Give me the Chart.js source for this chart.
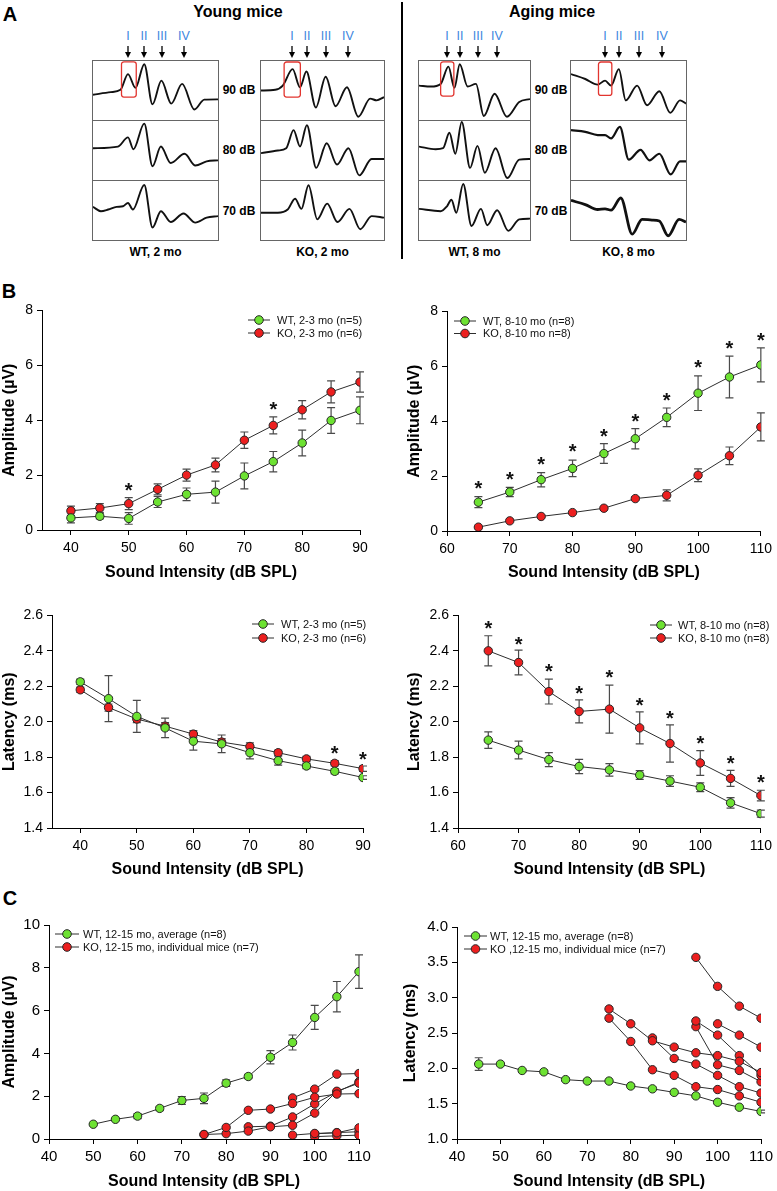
<!DOCTYPE html>
<html><head><meta charset="utf-8"><title>ABR figure</title>
<script src="https://cdn.jsdelivr.net/npm/chart.js@4.4.1/dist/chart.umd.min.js"></script>
<style>
html,body{margin:0;padding:0;background:#fff}
body{position:relative;width:777px;height:1191px;overflow:hidden;font-family:"Liberation Sans",Arial,Helvetica,sans-serif;color:#000}
canvas{position:absolute;display:block}
.t{position:absolute;transform:translate(-50%,-50%);white-space:nowrap;line-height:1}
.pl{font-weight:bold;font-size:20px}
.hd{font-weight:bold;font-size:16px}
.db{font-weight:bold;font-size:12px}
.rn{font-size:12.5px;color:#3d86e0}
.box{position:absolute;top:60px;height:181px;border:1px solid #666;box-sizing:border-box}
.sep{position:absolute;left:0;right:0;height:1px;background:#666}
</style></head><body>
<svg id="ann" width="777" height="262" style="position:absolute;left:0;top:0">
  <line x1="402" y1="2" x2="402" y2="259" stroke="#000" stroke-width="2"/>
</svg>
<div class="t pl" style="left:10px;top:14px">A</div>
<div class="t hd" style="left:238px;top:12px">Young mice</div>
<div class="t hd" style="left:552px;top:12px">Aging mice</div>
<div class="t pl" style="left:9px;top:291px">B</div>
<div class="t pl" style="left:10px;top:898px">C</div>
<script>
// ================= DATA =================
// Panel A: ABR waveforms (time in % of sweep, amplitude in arbitrary units)
const wt2_90_t=[0,14.2,22,28,34,41,47.6,54.7,62.6,71.3,81.1,89,100];
const wt2_90_v=[-4.3,-1.7,0.7,16.7,2.7,26.7,-14,10,-13.3,6.7,-19.3,-9.3,-9];
const wt2_80_t=[0,20,28,32.3,41,47.6,54.3,62.2,73.2,81.9,90.9,100];
const wt2_80_v=[2.3,4,13.3,1.3,27.3,-16,4,-12.7,-3.3,-15.3,-11,-10];
const wt2_70_t=[0,6.3,12.2,18.9,24,28,31.9,41,47.6,54.3,62.2,72.4,81.9,90.9,100];
const wt2_70_v=[3.7,-0.7,1,3.7,4.3,7.7,1,26,-17.3,-0.7,-11.7,-3,-12.3,-7.3,-5.7];
const ko2_90_t=[0,11.6,17.7,25.7,31.7,36.9,44.6,52.6,60.6,69.9,79.1,88.8,94,100];
const ko2_90_v=[0,0.7,5,21.7,3.3,19.3,-17.3,14,-16,3.3,-26.7,-8.3,-10,-6.7];
const ko2_80_t=[0,13.7,20.5,26.5,31.7,37.3,44.9,53.4,61.8,71.1,79.9,89.9,100];
const ko2_80_v=[-2.7,0,2.3,20.7,4,25.7,-17.7,7.3,-14.3,2.3,-25.3,-8.7,-8.7];
const ko2_70_t=[0,13.7,21.7,27.7,32.9,38.6,45.8,53.8,62.2,71.9,80.7,89.9,100];
const ko2_70_v=[-2.3,-2.3,1,12,1.7,25.7,-9,7,-11.7,1.7,-19,-5.7,-7.3];
const wt8_90_t=[0,10.6,19.5,26.5,31.9,36.7,43.8,51.3,58.4,68.1,79.2,90.3,100];
const wt8_90_v=[5,4,6.7,24.3,2.7,26.7,4,6.7,-26,-3.3,-26.7,-11.7,-8.7];
const wt8_80_t=[0,15,21.7,27.4,32.7,38.5,46,52.7,59.3,69,79.6,90.3,100];
const wt8_80_v=[4,1.3,2.3,18,-3.3,29,-17.7,4.7,-22.7,2.3,-28,-9.3,-8.7];
const wt8_70_t=[0,19.5,25.2,29.2,33.6,39.8,47.3,55.8,61.5,70.4,80.5,90.3,100];
const wt8_70_v=[1.7,-0.7,4.3,11,-2.3,27,-15.7,1.7,-15,0.3,-20.7,-9,-8.3];
const ko8_90_t=[0,12.4,23.2,29.6,34.8,41.6,47.6,57.5,66.1,76.8,86.3,94.8,100];
const ko8_90_v=[16.7,11.7,6,10,5,21.7,-10,5,-15,-0.7,-22.7,-10,-13.3];
const ko8_80_t=[0,12.4,23.2,29.6,34.8,42.5,50.2,60.5,68.2,76.8,86.7,94.8,100];
const ko8_80_v=[20.7,19,15.7,15.7,12.3,24,-9.3,0.7,-10,-3.3,-24.3,-11,-11];
const ko8_70_t=[0,12.4,23.2,29.6,34.8,43.3,53.2,61.8,70.4,76.8,84.5,94,100];
const ko8_70_v=[10.3,6,1,1.7,0.3,12.7,-24,-9,-9.7,-10.7,-25.7,-9,-11.7];
// wave I highlight boxes [tStart, tEnd, top, bottom]
const wt2_waveI=[22.8,34.6,29.7,-6.7];
const ko2_waveI=[18.8,32,29,-6.7];
const wt8_waveI=[19.5,31.4,30,-5.7];
const ko8_waveI=[23.9,35.5,29,-5];
const dbLevels=['90 dB','80 dB','70 dB'];
const waveNames=['I','II','III','IV'];

// Panel B: young (2-3 mo)
const dbYoung=[40,45,50,55,60,65,70,75,80,85,90];
const ampWtYoung=[0.44,0.50,0.42,1.02,1.30,1.38,1.97,2.49,3.17,3.99,4.36];
const ampWtYoungErr=[0.18,0.10,0.21,0.20,0.23,0.40,0.47,0.37,0.47,0.47,0.49];
const ampKoYoung=[0.70,0.80,0.96,1.48,2.00,2.37,3.27,3.81,4.38,5.03,5.39];
const ampKoYoungErr=[0.17,0.16,0.22,0.20,0.22,0.25,0.30,0.31,0.33,0.40,0.37];
const ampYoungStarDb=[50,75];
const ampYoungStarY=[1.66,4.59];
const latWtYoung=[2.225,2.13,2.03,1.965,1.89,1.875,1.825,1.78,1.75,1.72,1.685];
const latWtYoungErr=[0.015,0.13,0.09,0.055,0.05,0.05,0.035,0.025,0.015,0.015,0.01];
const latKoYoung=[2.18,2.08,2.015,1.975,1.93,1.885,1.86,1.825,1.79,1.765,1.735];
const latKoYoungErr=[0.015,0.02,0.02,0.02,0.02,0.02,0.02,0.015,0.015,0.015,0.015];
const latYoungStarDb=[85,90];
const latYoungStarY=[1.853,1.82];

// Panel B: aging (8-10 mo)
const dbOld=[65,70,75,80,85,90,95,100,105,110];
const ampWtOld=[1.05,1.42,1.87,2.28,2.82,3.36,4.14,5.02,5.61,6.05];
const ampWtOldErr=[0.20,0.17,0.26,0.30,0.36,0.37,0.34,0.63,0.76,0.62];
const ampKoOld=[0.14,0.37,0.53,0.67,0.83,1.18,1.30,2.03,2.74,3.79];
const ampKoOldErr=[0.04,0.04,0.04,0.04,0.05,0.06,0.20,0.23,0.32,0.51];
const ampOldStarY=[1.75,2.10,2.64,3.10,3.67,4.20,4.98,6.16,6.86,7.16];
const latWtOld=[1.896,1.84,1.786,1.747,1.728,1.699,1.665,1.63,1.542,1.481];
const latWtOldErr=[0.047,0.05,0.04,0.04,0.035,0.025,0.03,0.025,0.03,0.02];
const latKoOld=[2.40,2.334,2.17,2.058,2.071,1.965,1.877,1.767,1.68,1.583];
const latKoOldErr=[0.085,0.07,0.07,0.065,0.136,0.09,0.105,0.07,0.045,0.03];
const latOldStarY=[2.56,2.468,2.315,2.194,2.28,2.127,2.054,1.909,1.80,1.69];

// Panel C: 12-15 mo
const dbAgedWt=[50,55,60,65,70,75,80,85,90,95,100,105,110];
const ampWtAged=[0.69,0.92,1.07,1.43,1.80,1.90,2.61,2.92,3.82,4.51,5.68,6.65,7.82];
const ampWtAgedErr=[0.03,0.04,0.12,0.10,0.18,0.25,0.15,0.10,0.31,0.35,0.56,0.71,0.78];
const dbAgedKo=[75,80,85,90,95,100,105,110];
const ampKoMouse1=[0.21,0.54,1.34,1.40,1.66,1.95,2.10,2.12];
const ampKoMouse2=[0.21,0.25,0.37,0.57,0.64,1.21,2.23,2.61];
const ampKoMouse3=[null,null,0.57,0.60,1.03,1.64,2.20,2.67];
const ampKoMouse4=[null,null,null,null,1.92,2.33,3.03,3.06];
const ampKoMouse5=[null,null,null,null,0.18,0.26,0.29,0.52];
const ampKoMouse6=[null,null,null,null,null,0.11,0.15,0.18];
const ampKoMouse7=[null,null,null,null,null,0.24,0.30,0.34];
const dbAgedWtLat=[45,50,55,60,65,70,75,80,85,90,95,100,105,110];
const latWtAged=[2.06,2.06,1.97,1.95,1.84,1.82,1.82,1.75,1.71,1.66,1.61,1.52,1.45,1.39];
const latWtAgedErr=[0.09,0.02,0.02,0.02,0.02,0.02,0.02,0.02,0.02,0.02,0.02,0.02,0.02,0.02];
const latKoMouse1=[2.84,2.63,2.39,2.30,2.22,2.18,2.10,1.94];
const latKoMouse2=[2.71,2.38,1.98,1.90,1.74,1.70,1.61,1.52];
const latKoMouse3=[null,null,2.43,2.14,2.06,1.90,1.74,1.65];
const latKoMouse4=[null,null,null,null,3.57,3.16,2.88,2.71];
const latKoMouse5=[null,null,null,null,2.67,2.47,2.18,1.90];
const latKoMouse6=[null,null,null,null,2.59,2.05,1.97,1.81];
const latKoMouse7=[null,null,null,null,null,2.63,2.47,2.30];

// tick values
const dbTicksYoung=[40,50,60,70,80,90];
const dbTicksOld=[60,70,80,90,100,110];
const dbTicksAged=[40,50,60,70,80,90,100,110];
const ampTicksB=[0,2,4,6,8];
const latTicksB=[1.4,1.6,1.8,2.0,2.2,2.4,2.6];
const ampTicksC=[0,2,4,6,8,10];
const latTicksC=[1.0,1.5,2.0,2.5,3.0,3.5,4.0];

// ================= RENDERING =================
const FONT='"Liberation Sans", Arial, Helvetica, sans-serif';
Chart.defaults.font.family=FONT;
Chart.defaults.color='#000';
const GREEN='#6de232', RED='#ec1f1f', EDGE='#262626', LINK='#2e2e2e', WHISK='#4a4a4a';

function pts(xs,ys){return xs.map((x,i)=>({x:x,y:ys[i]}));}

const errorBars={id:'errorBars',beforeDatasetsDraw(chart){
  const ctx=chart.ctx, ys=chart.scales.y;
  chart.data.datasets.forEach((ds,di)=>{
    if(!ds.errors)return;
    const meta=chart.getDatasetMeta(di);
    ctx.save();ctx.strokeStyle=WHISK;ctx.lineWidth=1.2;
    meta.data.forEach((p,i)=>{
      const d=ds.data[i], e=ds.errors[i];
      if(!d||d.y==null||e==null)return;
      const top=ys.getPixelForValue(d.y+e), bot=ys.getPixelForValue(d.y-e), x=p.x;
      ctx.beginPath();
      ctx.moveTo(x,top);ctx.lineTo(x,bot);
      ctx.moveTo(x-4,top);ctx.lineTo(x+4,top);
      ctx.moveTo(x-4,bot);ctx.lineTo(x+4,bot);
      ctx.stroke();
    });
    ctx.restore();
  });
}};
function starPlugin(s){return {id:'stars',afterDatasetsDraw(chart){
  if(!s)return;
  const ctx=chart.ctx,xs=chart.scales.x,ys=chart.scales.y,sz=20;
  ctx.save();ctx.fillStyle='#111';ctx.font='bold '+sz+'px '+FONT;ctx.textAlign='center';ctx.textBaseline='alphabetic';
  s.x.forEach((xv,i)=>{ctx.fillText('*',xs.getPixelForValue(xv),ys.getPixelForValue(s.y[i])+0.62*sz);});
  ctx.restore();
}};}
function legendPlugin(L){return {id:'sigLegend',afterDraw(chart){
  const ctx=chart.ctx;ctx.save();
  L.items.forEach((it,i)=>{
    const y=L.y+i*L.dy;
    ctx.strokeStyle=LINK;ctx.lineWidth=1;
    ctx.beginPath();ctx.moveTo(L.x,y);ctx.lineTo(L.x+L.len,y);ctx.stroke();
    ctx.beginPath();ctx.arc(L.x+L.len/2,y,4.3,0,Math.PI*2);ctx.fillStyle=it.color;ctx.fill();
    ctx.strokeStyle=EDGE;ctx.stroke();
    ctx.fillStyle='#111';ctx.font='11px '+FONT;ctx.textAlign='left';ctx.textBaseline='middle';
    ctx.fillText(it.text,L.x+L.len+L.gap,y+0.5);
  });
  ctx.restore();
}};}

function series(xs,ys,color,errs){
  return {data:pts(xs,ys),errors:errs||null,borderColor:LINK,borderWidth:1,backgroundColor:color,
    pointBackgroundColor:color,pointBorderColor:EDGE,pointBorderWidth:1,pointRadius:4.2,pointHoverRadius:4.2,
    tension:0,spanGaps:false,fill:false};
}
const f0=v=>String(Math.round(v));
const f1=v=>Number(v).toFixed(1);

function plot(g,o){
  const cv=document.createElement('canvas');
  cv.width=g.w;cv.height=g.h;cv.style.left=g.l+'px';cv.style.top=g.t+'px';
  document.body.appendChild(cv);
  const tickFont={size:g.fs,family:FONT};
  const titleFont={size:16,weight:'bold',family:FONT};
  const gridCfg={display:true,drawOnChartArea:false,drawTicks:true,tickLength:5,color:'#000',lineWidth:1};
  return new Chart(cv,{
    type:'line',
    data:{datasets:o.datasets},
    plugins:[errorBars,starPlugin(o.stars),legendPlugin(o.legend)],
    options:{
      responsive:false,maintainAspectRatio:false,animation:false,events:[],
      layout:{padding:{top:g.pt,right:g.pr,bottom:0,left:0}},
      plugins:{legend:{display:false},tooltip:{enabled:false}},
      scales:{
        x:{type:'linear',position:'bottom',min:o.xMin,max:o.xMax,
          afterBuildTicks:s=>{s.ticks=o.xTicks.map(v=>({value:v}));},
          afterFit:s=>{s.height=g.hx;},
          grid:gridCfg,border:{display:true,color:'#000',width:1},
          ticks:{font:tickFont,color:'#000',padding:g.xp,maxRotation:0,autoSkip:false,callback:v=>f0(v)},
          title:{display:true,text:'Sound Intensity (dB SPL)',font:titleFont,color:'#000',padding:{top:0,bottom:g.tb}}},
        y:{type:'linear',position:'left',min:o.yMin,max:o.yMax,
          afterBuildTicks:s=>{s.ticks=o.yTicks.map(v=>({value:v}));},
          afterFit:s=>{s.width=g.wy;},
          grid:gridCfg,border:{display:true,color:'#000',width:1},
          ticks:{font:tickFont,color:'#000',padding:4,autoSkip:false,callback:v=>o.yFmt(v)},
          title:{display:true,text:o.yTitle,font:titleFont,color:'#000',padding:{top:0,bottom:0}}}
      }
    }
  });
}

// ---- Panel B ----
plot({l:0,t:298,w:380,h:290,pt:10,pr:20,wy:42,hx:58,fs:14,xp:5,tb:5.4},{
  xMin:35,xMax:90,xTicks:dbTicksYoung,yMin:0,yMax:8,yTicks:ampTicksB,yFmt:f0,yTitle:'Amplitude (µV)',
  datasets:[series(dbYoung,ampWtYoung,GREEN,ampWtYoungErr),series(dbYoung,ampKoYoung,RED,ampKoYoungErr)],
  stars:{x:ampYoungStarDb,y:ampYoungStarY},
  legend:{x:248,y:22,dy:13,len:22,gap:7,items:[{text:'WT, 2-3 mo (n=5)',color:GREEN},{text:'KO, 2-3 mo (n=6)',color:RED}]}
});
plot({l:405,t:299,w:372,h:290,pt:10,pr:12,wy:42,hx:58,fs:14,xp:5,tb:6.4},{
  xMin:60,xMax:110,xTicks:dbTicksOld,yMin:0,yMax:8,yTicks:ampTicksB,yFmt:f0,yTitle:'Amplitude (µV)',
  datasets:[series(dbOld,ampWtOld,GREEN,ampWtOldErr),series(dbOld,ampKoOld,RED,ampKoOldErr)],
  stars:{x:dbOld,y:ampOldStarY},
  legend:{x:49,y:22,dy:12.5,len:22,gap:7,items:[{text:'WT, 8-10 mo (n=8)',color:GREEN},{text:'KO, 8-10 mo n=8)',color:RED}]}
});
plot({l:0,t:603,w:383,h:282,pt:10,pr:20,wy:52,hx:57,fs:14,xp:5,tb:5.4},{
  xMin:35,xMax:90,xTicks:dbTicksYoung,yMin:1.4,yMax:2.6,yTicks:latTicksB,yFmt:f1,yTitle:'Latency (ms)',
  datasets:[series(dbYoung,latWtYoung,GREEN,latWtYoungErr),series(dbYoung,latKoYoung,RED,latKoYoungErr)],
  stars:{x:latYoungStarDb,y:latYoungStarY},
  legend:{x:252,y:21,dy:14,len:22,gap:7,items:[{text:'WT, 2-3 mo (n=5)',color:GREEN},{text:'KO, 2-3 mo (n=6)',color:RED}]}
});
plot({l:405,t:603,w:372,h:282,pt:10,pr:12,wy:53,hx:57,fs:14,xp:5,tb:5.4},{
  xMin:60,xMax:110,xTicks:dbTicksOld,yMin:1.4,yMax:2.6,yTicks:latTicksB,yFmt:f1,yTitle:'Latency (ms)',
  datasets:[series(dbOld,latWtOld,GREEN,latWtOldErr),series(dbOld,latKoOld,RED,latKoOldErr)],
  stars:{x:dbOld,y:latOldStarY},
  legend:{x:245,y:22,dy:13,len:22,gap:6,items:[{text:'WT, 8-10 mo (n=8)',color:GREEN},{text:'KO, 8-10 mo (n=8)',color:RED}]}
});

// ---- Panel C ----
const koAmp=[ampKoMouse1,ampKoMouse2,ampKoMouse3,ampKoMouse4,ampKoMouse5,ampKoMouse6,ampKoMouse7];
const koLat=[latKoMouse1,latKoMouse2,latKoMouse3,latKoMouse4,latKoMouse5,latKoMouse6,latKoMouse7];
plot({l:0,t:912,w:380,h:279,pt:10,pr:21,wy:49,hx:52,fs:15,xp:4,tb:0},{
  xMin:40,xMax:110,xTicks:dbTicksAged,yMin:0,yMax:10,yTicks:ampTicksC,yFmt:f0,yTitle:'Amplitude (µV)',
  datasets:[series(dbAgedWt,ampWtAged,GREEN,ampWtAgedErr)].concat(koAmp.map(m=>series(dbAgedKo,m,RED,null))),
  stars:null,
  legend:{x:55,y:22,dy:13,len:24,gap:4,items:[{text:'WT, 12-15 mo, average (n=8)',color:GREEN},{text:'KO, 12-15 mo, individual mice (n=7)',color:RED}]}
});
plot({l:401,t:914,w:376,h:277,pt:10,pr:13,wy:56,hx:52,fs:15,xp:4,tb:0},{
  xMin:40,xMax:110,xTicks:dbTicksAged,yMin:1.0,yMax:4.0,yTicks:latTicksC,yFmt:f1,yTitle:'Latency (ms)',
  datasets:[series(dbAgedWtLat,latWtAged,GREEN,latWtAgedErr)].concat(koLat.map(m=>series(dbAgedKo,m,RED,null))),
  stars:null,
  legend:{x:63,y:22,dy:13,len:23,gap:3,items:[{text:'WT, 12-15 mo, average (n=8)',color:GREEN},{text:'KO ,12-15 mo, individual mice (n=7)',color:RED}]}
});

// ---- Panel A ----
function redBoxPlugin(b){return {id:'redBox',afterDatasetsDraw(chart){
  const x=chart.scales.x,y=chart.scales.y,ctx=chart.ctx;
  const x0=x.getPixelForValue(b[0]),x1=x.getPixelForValue(b[1]);
  const y0=Math.max(0.8,y.getPixelForValue(b[2])),y1=y.getPixelForValue(b[3]);
  ctx.save();ctx.strokeStyle='#e2352f';ctx.lineWidth=1.3;ctx.beginPath();
  if(ctx.roundRect)ctx.roundRect(x0,y0,x1-x0,y1-y0,2.5);else ctx.rect(x0,y0,x1-x0,y1-y0);
  ctx.stroke();ctx.restore();
}};}
function wave(parent,w,top,h,ts,vs,lw,box){
  const cv=document.createElement('canvas');cv.width=w;cv.height=h;cv.style.left='0px';cv.style.top=top+'px';
  parent.appendChild(cv);
  new Chart(cv,{type:'line',
    data:{datasets:[{data:pts(ts,vs),borderColor:'#111',borderWidth:lw,pointRadius:0,cubicInterpolationMode:'monotone',fill:false}]},
    plugins:box?[redBoxPlugin(box)]:[],
    options:{responsive:false,maintainAspectRatio:false,animation:false,events:[],layout:{padding:0},
      plugins:{legend:{display:false},tooltip:{enabled:false}},
      scales:{x:{type:'linear',display:false,min:0,max:100},y:{type:'linear',display:false,min:-30,max:30}}}});
}
const columns=[
  {left:92,width:127,label:'WT, 2 mo',arrows:[128,144,162,184],box:wt2_waveI,lw:[1.9,1.9,1.9],
   tr:[[wt2_90_t,wt2_90_v],[wt2_80_t,wt2_80_v],[wt2_70_t,wt2_70_v]]},
  {left:260,width:125,label:'KO, 2 mo',arrows:[292,307,326,348],box:ko2_waveI,lw:[1.9,1.9,1.9],
   tr:[[ko2_90_t,ko2_90_v],[ko2_80_t,ko2_80_v],[ko2_70_t,ko2_70_v]]},
  {left:418,width:113,label:'WT, 8 mo',arrows:[447,460,478,497],box:wt8_waveI,lw:[1.9,1.9,1.9],
   tr:[[wt8_90_t,wt8_90_v],[wt8_80_t,wt8_80_v],[wt8_70_t,wt8_70_v]]},
  {left:570,width:117,label:'KO, 8 mo',arrows:[605,619,639,662],box:ko8_waveI,lw:[1.9,2.2,2.8],
   tr:[[ko8_90_t,ko8_90_v],[ko8_80_t,ko8_80_v],[ko8_70_t,ko8_70_v]]}
];
const svg=document.getElementById('ann');
const NS='http://www.w3.org/2000/svg';
function addText(txt,cls,cx,cy){const d=document.createElement('div');d.className='t '+cls;d.textContent=txt;d.style.left=cx+'px';d.style.top=cy+'px';document.body.appendChild(d);}
columns.forEach(c=>{
  const bx=document.createElement('div');bx.className='box';bx.style.left=c.left+'px';bx.style.width=c.width+'px';
  document.body.appendChild(bx);
  [59,119].forEach(y=>{const s=document.createElement('div');s.className='sep';s.style.top=y+'px';bx.appendChild(s);});
  c.tr.forEach((tv,i)=>wave(bx,c.width-2,i*60,59,tv[0],tv[1],c.lw[i],i===0?c.box:null));
  addText(c.label,'db',c.left+c.width/2+(c.label.startsWith('WT')?0:0),252);
  c.arrows.forEach((x,i)=>{
    addText(waveNames[i],'rn',x,36);
    const ln=document.createElementNS(NS,'line');
    ln.setAttribute('x1',x);ln.setAttribute('x2',x);ln.setAttribute('y1',46);ln.setAttribute('y2',54);
    ln.setAttribute('stroke','#000');ln.setAttribute('stroke-width','1.3');svg.appendChild(ln);
    const pg=document.createElementNS(NS,'polygon');
    pg.setAttribute('points',(x-3)+',52 '+(x+3)+',52 '+x+',58');pg.setAttribute('fill','#000');svg.appendChild(pg);
  });
});
[239,551].forEach(cx=>{[90,150,211].forEach((cy,i)=>addText(dbLevels[i],'db',cx,cy));});
</script>
</body></html>
